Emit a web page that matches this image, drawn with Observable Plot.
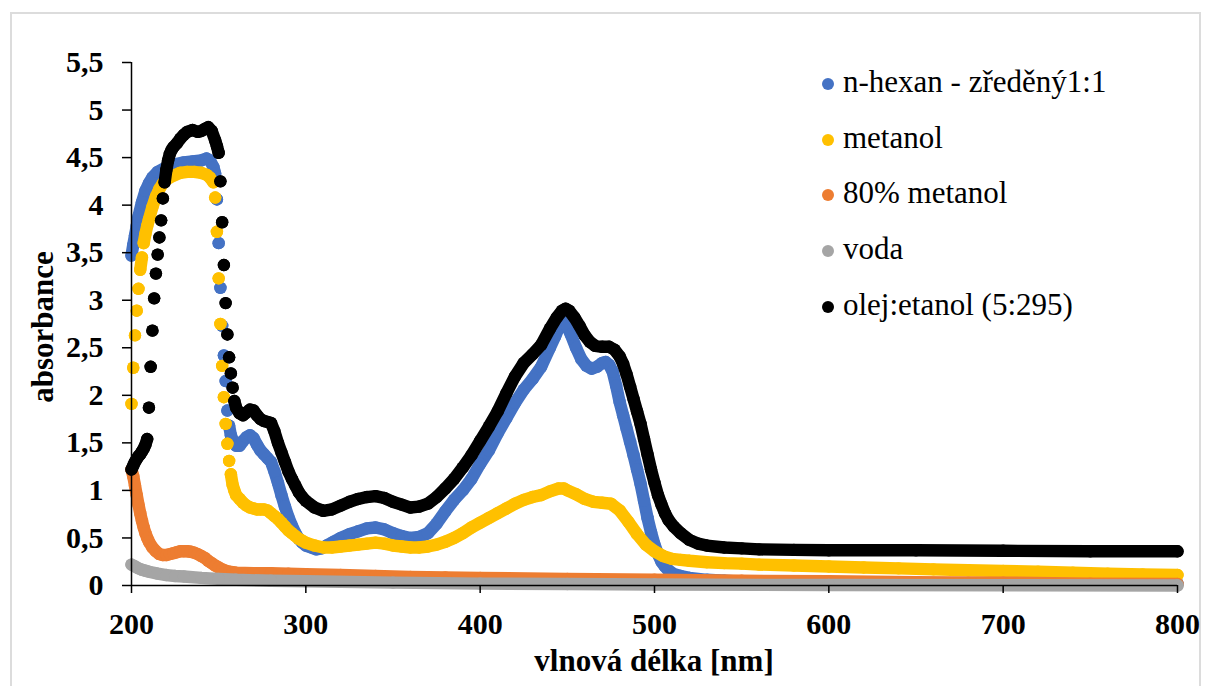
<!DOCTYPE html>
<html>
<head>
<meta charset="utf-8">
<script src="https://cdn.jsdelivr.net/npm/d3@7"></script>
<script src="https://cdn.jsdelivr.net/npm/@observablehq/plot@0.6"></script>
<style>
  html, body { margin: 0; padding: 0; background: #fff; }
  #wrap { position: relative; width: 1207px; height: 686px; overflow: hidden; background: #fff; }
  #border { position: absolute; left: 10px; top: 12px; width: 1191px; height: 700px; border: 2px solid #dcdcdc; box-sizing: border-box; }
  #chart { position: absolute; left: 0; top: 0; }
  .title { position: absolute; font-family: "Liberation Serif", "Times New Roman", serif; font-weight: bold; font-size: 31px; line-height: 31px; white-space: nowrap; color: #000; }
  #legend { position: absolute; left: 0; top: 0; width: 1207px; height: 686px; font-family: "Liberation Serif", "Times New Roman", serif; font-size: 31px; color: #000; }
  .sw { position: absolute; width: 12px; height: 12px; border-radius: 50%; }
  .lab { position: absolute; line-height: 31px; white-space: nowrap; }
</style>
</head>
<body>
<div id="wrap">
  <div id="border"></div>
  <div id="chart"></div>
  <div class="title" id="ytitle">absorbance</div>
  <div class="title" id="xtitle">vlnová délka [nm]</div>
  <div id="legend"></div>
</div>
<script>
// Absorption spectra: [wavelength nm, absorbance]
const hexan = [
  [200,3.47],[201,3.58],[202,3.68],[203,3.78],[204,3.88],[206,4.03],[208,4.15],[210,4.23],[212,4.29],
  [215,4.35],[220,4.40],[225,4.43],[230,4.45],[235,4.46],[240,4.47],[243,4.49],[245,4.47],[247,4.40],
  [248,4.33],[249,4.06],[250,3.60],[251,3.13],[252,2.73],[253,2.42],[254,2.15],[255,1.84],[256,1.68],
  [257,1.58],[258,1.53],[260,1.47],[262,1.47],[264,1.52],[266,1.56],[268,1.58],[270,1.55],[272,1.48],
  [274,1.42],[276,1.38],[278,1.34],[280,1.30],[282,1.20],[284,1.08],[286,0.95],[288,0.83],[290,0.72],
  [292,0.63],[294,0.55],[296,0.49],[298,0.45],[300,0.42],[303,0.40],[306,0.38],[309,0.39],[312,0.42],
  [316,0.46],[320,0.50],[325,0.54],[330,0.57],[335,0.60],[340,0.61],[345,0.59],[350,0.55],[355,0.52],
  [360,0.50],[365,0.51],[370,0.55],[375,0.65],[380,0.78],[385,0.90],[390,1.00],[395,1.12],[400,1.28],
  [405,1.42],[410,1.60],[415,1.76],[420,1.92],[425,2.06],[430,2.17],[435,2.30],[440,2.50],[443,2.62],
  [446,2.75],[448,2.79],[450,2.72],[452,2.64],[455,2.50],[458,2.38],[461,2.31],[464,2.28],[467,2.30],
  [470,2.34],[472,2.35],[474,2.32],[476,2.25],[478,2.10],[480,1.93],[482,1.79],[484,1.65],[486,1.51],
  [488,1.37],[490,1.22],[492,1.07],[494,0.89],[496,0.71],[498,0.56],[500,0.43],[502,0.33],[504,0.25],
  [506,0.20],[508,0.16],[511,0.12],[515,0.10],[520,0.08],[530,0.06],[540,0.05],[550,0.04],[560,0.03],
  [600,0.02],[700,0.02],[800,0.02]
];
const metanol = [
  [200,1.91],[201,2.29],[202,2.63],[203,2.89],[204,3.12],[205,3.32],[206,3.45],[207,3.60],[208,3.70],
  [209,3.78],[210,3.85],[212,3.98],[214,4.09],[216,4.17],[218,4.23],[220,4.27],[224,4.31],[228,4.34],
  [232,4.35],[236,4.35],[240,4.34],[243,4.32],[245,4.29],[247,4.24],[248,4.08],[249,3.72],[250,3.23],
  [251,2.75],[252,2.31],[253,1.98],[254,1.70],[255,1.49],[256,1.31],[257,1.17],[258,1.06],[259,1.00],
  [260,0.95],[262,0.91],[264,0.87],[266,0.84],[268,0.82],[270,0.81],[272,0.80],[274,0.80],[276,0.80],
  [278,0.79],[280,0.76],[282,0.73],[284,0.70],[286,0.66],[288,0.62],[290,0.58],[292,0.55],[294,0.52],
  [296,0.49],[298,0.47],[300,0.45],[305,0.42],[310,0.40],[315,0.40],[320,0.41],[325,0.42],[330,0.43],
  [335,0.44],[340,0.45],[345,0.44],[350,0.42],[355,0.41],[360,0.40],[365,0.40],[370,0.41],[375,0.43],
  [380,0.46],[385,0.50],[390,0.55],[395,0.61],[400,0.66],[405,0.71],[410,0.76],[415,0.81],[420,0.86],
  [425,0.90],[430,0.93],[435,0.95],[440,0.99],[445,1.02],[448,1.02],[450,1.00],[455,0.96],[460,0.91],
  [465,0.88],[470,0.87],[475,0.86],[480,0.79],[485,0.67],[490,0.54],[495,0.43],[500,0.36],[505,0.31],
  [510,0.28],[515,0.27],[520,0.26],[530,0.245],[540,0.235],[550,0.23],[560,0.22],[580,0.21],[600,0.20],
  [620,0.19],[640,0.18],[660,0.17],[680,0.16],[700,0.153],[720,0.145],[740,0.135],[760,0.125],
  [780,0.115],[800,0.11]
];
const metanol80 = [
  [200,1.22],[201,1.15],[202,1.05],[203,0.95],[204,0.85],[205,0.76],[206,0.68],[207,0.61],[208,0.55],
  [209,0.50],[210,0.46],[212,0.40],[214,0.36],[216,0.33],[218,0.32],[220,0.32],[222,0.33],[224,0.34],
  [226,0.35],[228,0.36],[230,0.36],[232,0.36],[234,0.355],[236,0.345],[238,0.33],[240,0.31],[242,0.29],
  [244,0.26],[246,0.235],[248,0.21],[250,0.19],[252,0.17],[254,0.155],[256,0.145],[258,0.14],[260,0.135],
  [270,0.13],[280,0.13],[290,0.125],[300,0.12],[320,0.11],[340,0.10],[360,0.09],[380,0.085],[400,0.08],
  [450,0.07],[500,0.06],[550,0.05],[600,0.045],[650,0.035],[700,0.03],[750,0.02],[800,0.015]
];
const voda = [
  [200,0.22],[202,0.20],[204,0.18],[206,0.165],[208,0.155],[210,0.145],[215,0.125],[220,0.11],[225,0.10],
  [230,0.095],[240,0.08],[250,0.07],[260,0.06],[280,0.05],[300,0.045],[350,0.03],[400,0.02],[450,0.015],
  [500,0.01],[600,0.005],[700,0.003],[800,0.0]
];
const olej = [
  [200,1.22],[201,1.26],[202,1.30],[203,1.33],[204,1.36],[205,1.38],[206,1.41],[207,1.44],[208,1.48],
  [209,1.54],[210,1.87],[211,2.30],[212,2.68],[213,3.02],[214,3.28],[215,3.48],[216,3.66],[217,3.84],
  [218,4.07],[219,4.24],[220,4.37],[221,4.47],[222,4.54],[223,4.58],[224,4.61],[226,4.65],[228,4.70],
  [230,4.74],[232,4.77],[235,4.79],[238,4.77],[240,4.78],[242,4.80],[244,4.82],[246,4.78],[248,4.68],
  [249,4.62],[250,4.55],[251,4.25],[252,3.82],[253,3.37],[254,2.97],[255,2.64],[256,2.40],[257,2.23],
  [258,2.08],[259,1.94],[260,1.87],[262,1.81],[264,1.79],[266,1.82],[268,1.85],[270,1.84],[272,1.79],
  [274,1.75],[276,1.73],[278,1.72],[280,1.71],[282,1.62],[284,1.50],[286,1.40],[288,1.30],[290,1.20],
  [292,1.12],[294,1.05],[296,0.98],[298,0.93],[300,0.89],[305,0.82],[310,0.785],[315,0.80],[320,0.84],
  [325,0.88],[330,0.91],[335,0.93],[340,0.94],[345,0.92],[350,0.88],[355,0.85],[360,0.82],[365,0.83],
  [370,0.86],[375,0.93],[380,1.02],[385,1.12],[390,1.24],[395,1.37],[400,1.52],[405,1.67],[410,1.83],
  [415,2.02],[420,2.20],[425,2.34],[430,2.43],[435,2.53],[440,2.70],[444,2.82],[447,2.89],[449,2.91],
  [451,2.89],[454,2.82],[457,2.73],[460,2.63],[463,2.56],[466,2.52],[470,2.51],[474,2.51],[477,2.48],
  [480,2.41],[482,2.33],[484,2.22],[486,2.09],[488,1.96],[490,1.83],[492,1.70],[494,1.54],[496,1.38],
  [498,1.22],[500,1.08],[502,0.95],[504,0.85],[506,0.76],[508,0.69],[511,0.62],[515,0.55],[520,0.48],
  [525,0.44],[530,0.42],[540,0.40],[550,0.39],[560,0.38],[580,0.375],[600,0.37],[650,0.37],[700,0.365],
  [750,0.36],[800,0.36]
];

const seriesNames = ["n-hexan - zředěný1:1", "metanol", "80% metanol", "voda", "olej:etanol (5:295)"];
const seriesData = [hexan, metanol, metanol80, voda, olej];
const seriesColors = ["#4472C4", "#FFC000", "#ED7D31", "#A5A5A5", "#000000"];

const xTicks = [200, 300, 400, 500, 600, 700, 800];
const yTicks = [0, 0.5, 1, 1.5, 2, 2.5, 3, 3.5, 4, 4.5, 5, 5.5];

const R = 6.2;          // marker radius
const SLOPE = 0.13;     // absorbance change per nm above which neighbouring markers no longer touch

// Flatten each series into rows; a new segment starts wherever the spectrum is too steep
// for 1 nm markers to overlap
const rows = seriesData.map((data, k) => {
  let seg = 0;
  return data.map(([x, y], i) => {
    if (i > 0 && Math.abs(y - data[i - 1][1]) / (x - data[i - 1][0]) > SLOPE + 1e-9) seg++;
    return {series: k, x, y, seg};
  });
});

const fmt = d => String(d).replace(".", ",");

const marks = [];
rows.forEach((r, k) => {
  marks.push(Plot.line(r, {x: "x", y: "y", z: "seg", stroke: seriesColors[k], strokeWidth: 2 * R,
    strokeLinecap: "round", strokeLinejoin: "round"}));
  marks.push(Plot.dot(r, {x: "x", y: "y", r: R, fill: seriesColors[k], stroke: "none"}));
});

const chart = Plot.plot({
  width: 1207,
  height: 686,
  marginLeft: 131,
  marginRight: 30,
  marginTop: 62,
  marginBottom: 101,
  style: {fontFamily: "'Liberation Serif', 'Times New Roman', serif", fontSize: "30px", fontWeight: "bold", background: "transparent", overflow: "visible", color: "#000"},
  x: {domain: [xTicks[0], xTicks[xTicks.length - 1]]},
  y: {domain: [yTicks[0], yTicks[yTicks.length - 1]]},
  marks: [
    ...marks,
    Plot.ruleX([xTicks[0]], {y1: yTicks[0], y2: yTicks[yTicks.length - 1], stroke: "#000", strokeWidth: 1.5}),
    Plot.ruleY([yTicks[0]], {x1: xTicks[0], x2: xTicks[xTicks.length - 1], stroke: "#000", strokeWidth: 1.5}),
    Plot.axisY({ticks: yTicks, tickSize: 9, tickPadding: 19, tickFormat: fmt, label: null, strokeWidth: 1.5}),
    Plot.axisX({ticks: xTicks, tickSize: 8, tickPadding: 19, tickFormat: d => String(d), label: null, strokeWidth: 1.5})
  ]
});
document.getElementById("chart").appendChild(chart);

// Axis titles
const yt = document.getElementById("ytitle");
yt.style.left = "42px"; yt.style.top = "327px";
yt.style.transform = "translate(-50%, -50%) rotate(-90deg)";
const xt = document.getElementById("xtitle");
xt.style.left = "654px"; xt.style.top = "660px";
xt.style.transform = "translate(-50%, -50%)";

// Legend
const legend = document.getElementById("legend");
const rowY = [84, 140, 195, 251, 307];
seriesNames.forEach((name, k) => {
  const sw = document.createElement("div");
  sw.className = "sw";
  sw.style.background = seriesColors[k];
  sw.style.left = (828 - 6) + "px";
  sw.style.top = (rowY[k] - 6) + "px";
  legend.appendChild(sw);
  const lab = document.createElement("div");
  lab.className = "lab";
  lab.textContent = name;
  lab.style.left = "843px";
  lab.style.top = (rowY[k] - 18) + "px";
  legend.appendChild(lab);
});
</script>
</body>
</html>
